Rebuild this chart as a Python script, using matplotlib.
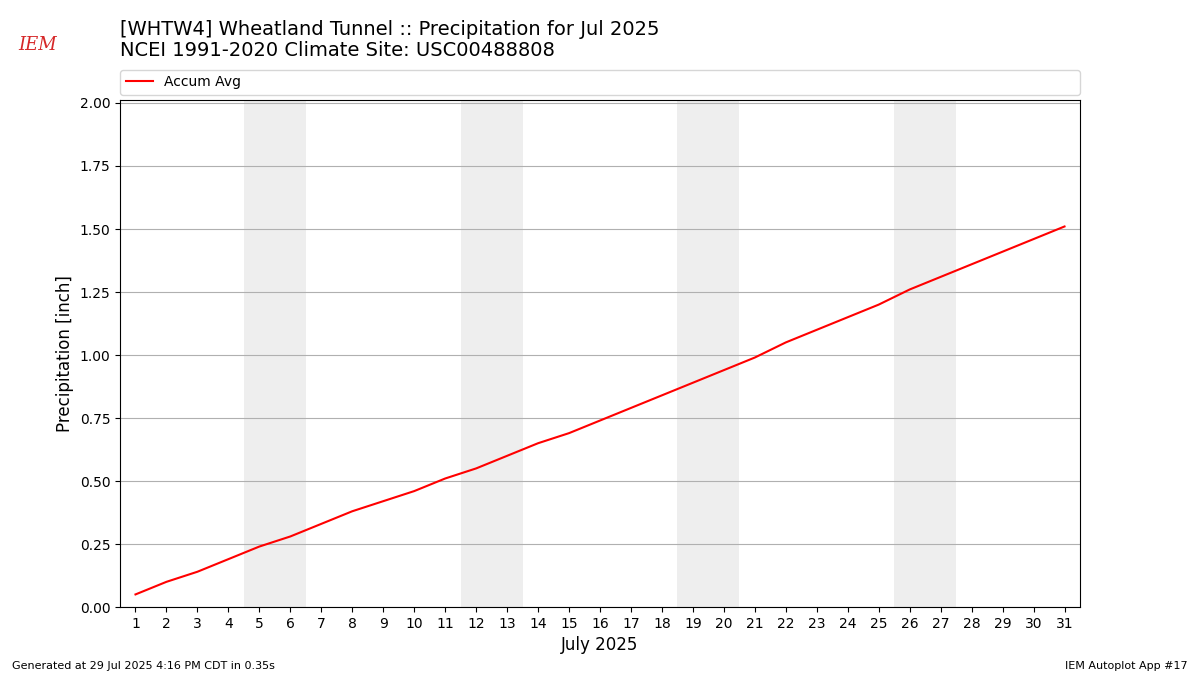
import matplotlib
matplotlib.use("Agg")
import matplotlib.pyplot as plt

days = list(range(1, 32))
accum_avg = [0.05, 0.10, 0.14, 0.19, 0.24, 0.28, 0.33, 0.38, 0.42, 0.46,
             0.51, 0.55, 0.60, 0.65, 0.69, 0.74, 0.79, 0.84, 0.89, 0.94,
             0.99, 1.05, 1.10, 1.15, 1.20, 1.26, 1.31, 1.36, 1.41, 1.46, 1.51]
weekends = [(5, 6), (12, 13), (19, 20), (26, 27)]
yticks = [0.0, 0.25, 0.5, 0.75, 1.0, 1.25, 1.5, 1.75, 2.0]

fig = plt.figure(figsize=(12, 6.75), dpi=100)
ax = fig.add_axes([0.1, 0.1007, 0.8, 0.7512])

for a, b in weekends:
    ax.axvspan(a - 0.5, b + 0.5, color="#eeeeee", zorder=0, lw=0)

ax.plot(days, accum_avg, color="red", lw=1.5, label="Accum Avg", zorder=3)

ax.set_xlim(0.5, 31.5)
ax.set_ylim(0, 2.012)
ax.set_xticks(days)
ax.set_yticks(yticks)
ax.set_yticklabels([f"{v:.2f}" for v in yticks])
ax.grid(axis="y", color="#b0b0b0", lw=0.8, zorder=1)
ax.set_axisbelow(True)
ax.set_xlabel("July 2025", fontsize=12)
ax.set_ylabel("Precipitation [inch]", fontsize=12)

ax.legend(loc="lower left", bbox_to_anchor=(0, 1.01, 1, 0.05), mode="expand",
          ncol=1, fontsize=10, borderaxespad=0, frameon=True)

fig.text(0.1, 0.957, "[WHTW4] Wheatland Tunnel :: Precipitation for Jul 2025",
         fontsize=14, va="center", ha="left")
fig.text(0.1, 0.925, "NCEI 1991-2020 Climate Site: USC00488808",
         fontsize=14, va="center", ha="left")

# simple logo stand-in
fig.text(0.031, 0.933, "IEM", fontsize=13, color="#d62728", family="DejaVu Serif",
         style="italic", ha="center", va="center")

fig.text(0.01, 0.006, "Generated at 29 Jul 2025 4:16 PM CDT in 0.35s", fontsize=8,
         ha="left", va="bottom")
fig.text(0.99, 0.006, "IEM Autoplot App #17", fontsize=8, ha="right", va="bottom")

fig.savefig("out.png", dpi=100)
